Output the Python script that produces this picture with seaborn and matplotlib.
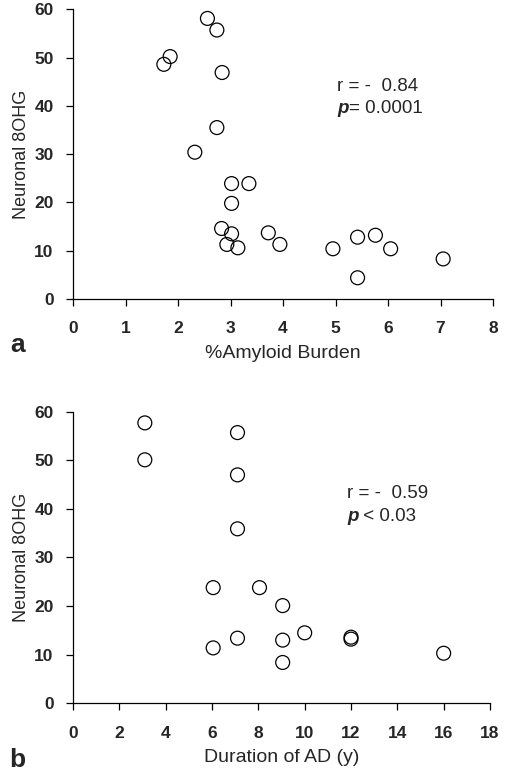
import matplotlib
matplotlib.use("Agg")
import matplotlib.pyplot as plt
import seaborn as sns
import pandas as pd

# Panel a: %Amyloid burden vs neuronal 8OHG
amyloid = [2.56, 2.74, 1.85, 1.73, 2.84, 2.74, 2.32, 3.02, 3.35, 3.02, 2.83,
           3.02, 2.93, 3.14, 3.72, 3.94, 4.95, 5.42, 5.76, 6.05, 7.05, 5.42]
ohg_a = [58.1, 55.7, 50.2, 48.6, 46.9, 35.5, 30.4, 23.9, 23.9, 19.8, 14.6,
         13.5, 11.3, 10.6, 13.7, 11.3, 10.4, 12.8, 13.2, 10.4, 8.3, 4.4]

# Panel b: duration of AD vs neuronal 8OHG
duration = [3.1, 3.1, 7.1, 7.1, 7.1, 6.05, 8.05, 9.05, 10, 12, 12, 7.1, 9.05, 6.05, 9.05, 16]
ohg_b = [57.7, 50.1, 55.7, 47.0, 35.9, 23.8, 23.8, 20.1, 14.5, 13.6, 13.2,
         13.4, 13.0, 11.4, 8.4, 10.3]

xticks_a = [0, 1, 2, 3, 4, 5, 6, 7, 8]
xticks_b = [0, 2, 4, 6, 8, 10, 12, 14, 16, 18]
yticks = [0, 10, 20, 30, 40, 50, 60]

sns.set_theme(style="ticks")
plt.rcParams['font.family'] = ['Liberation Sans', 'DejaVu Sans']

fig = plt.figure(figsize=(5.05, 7.72), dpi=100)
ax1 = fig.add_axes([0.1446, 0.6127, 0.8317, 0.3753])
ax2 = fig.add_axes([0.1446, 0.0890, 0.8257, 0.3777])

dfa = pd.DataFrame({"x": amyloid, "y": ohg_a})
dfb = pd.DataFrame({"x": duration, "y": ohg_b})

panels = [
    (ax1, dfa, xticks_a, "%Amyloid Burden", "r = -  0.84", "= 0.0001", "a", 0.553,
     0.629, 0.732, 0.656),
    (ax2, dfb, xticks_b, "Duration of AD (y)", "r = -  0.59", " < 0.03", "b", 0.016,
     0.657, 0.718, 0.642),
]

for ax, df, xt, xlab, rtxt, ptxt, panel, ypos, tx, ry, py in panels:
    sns.scatterplot(data=df, x="x", y="y", ax=ax, s=100, marker="o",
                    facecolor="none", edgecolor="black", linewidth=0.9,
                    clip_on=False, legend=False)
    ax.set_xlim(xt[0], xt[-1])
    ax.set_ylim(0, 60)
    ax.set_xticks(xt)
    ax.set_yticks(yticks)
    ax.set_xticklabels([str(v) for v in xt], fontsize=12.5, fontweight="bold")
    ax.set_yticklabels([str(v) for v in yticks], fontsize=12.5, fontweight="bold")
    ax.tick_params(axis="both", direction="out", length=5, width=0.9, color="black")
    ax.tick_params(axis="x", pad=11)
    ax.tick_params(axis="y", pad=9)
    for side in ["top", "right"]:
        ax.spines[side].set_visible(False)
    for side in ["left", "bottom"]:
        ax.spines[side].set_linewidth(0.9)
        ax.spines[side].set_color("black")
    ax.set_xlabel(xlab, fontsize=14, labelpad=6)
    ax.set_ylabel("Neuronal 8OHG", fontsize=13, labelpad=3)
    ax.text(tx, ry, rtxt, transform=ax.transAxes, fontsize=13.5,
            ha="left", va="center")
    pt = ax.text(tx, py, "p", transform=ax.transAxes, fontsize=13.5,
                 ha="left", va="center", style="italic", fontweight="bold")
    ax.annotate(ptxt, xy=(1.0, 0.5), xycoords=pt, fontsize=13.5,
                ha="left", va="center")
    fig.text(0.035, ypos, panel, fontsize=19, fontweight="bold",
             ha="center", va="center")

fig.savefig("out.png", dpi=100)
